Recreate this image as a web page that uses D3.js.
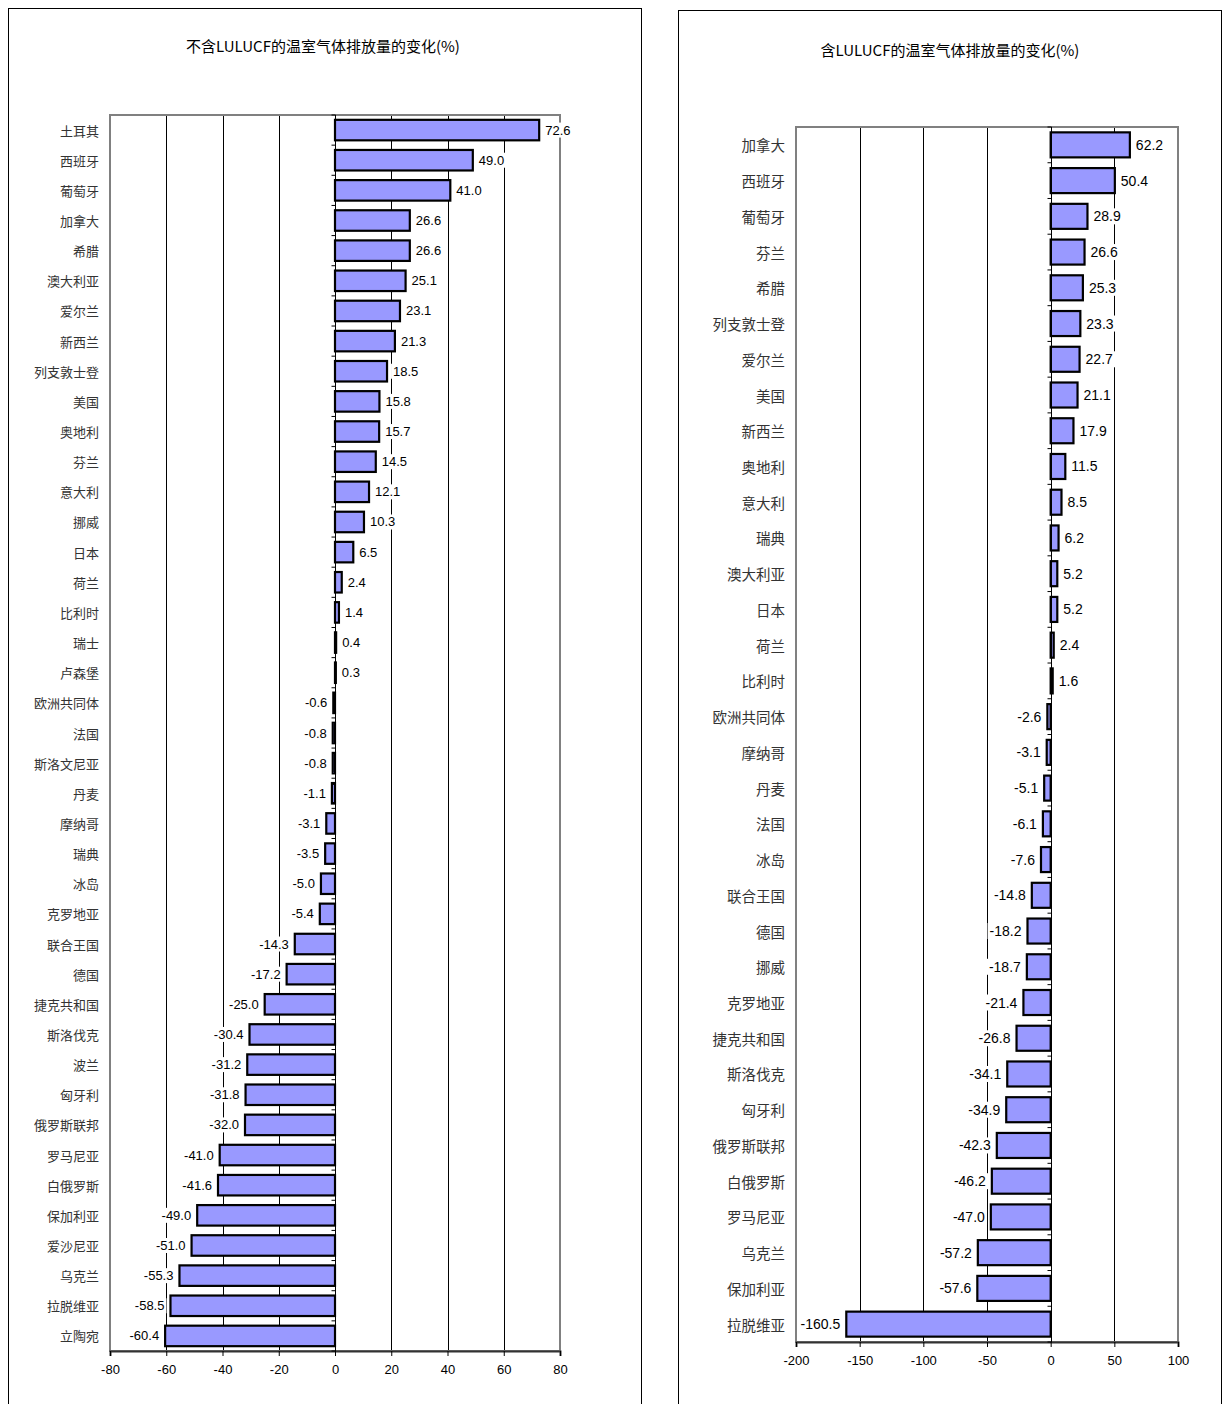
<!DOCTYPE html>
<html><head><meta charset="utf-8">
<script src="https://cdn.jsdelivr.net/npm/d3@7"></script>
<style>body{margin:0;background:#fff}svg{display:block}</style>
</head><body>
<script>
const leftTitle = "不含LULUCF的温室气体排放量的变化(%)";
const leftCats = ["土耳其","西班牙","葡萄牙","加拿大","希腊","澳大利亚","爱尔兰","新西兰","列支敦士登","美国","奥地利","芬兰","意大利","挪威","日本","荷兰","比利时","瑞士","卢森堡","欧洲共同体","法国","斯洛文尼亚","丹麦","摩纳哥","瑞典","冰岛","克罗地亚","联合王国","德国","捷克共和国","斯洛伐克","波兰","匈牙利","俄罗斯联邦","罗马尼亚","白俄罗斯","保加利亚","爱沙尼亚","乌克兰","拉脱维亚","立陶宛"];
const leftVals = [72.6,49.0,41.0,26.6,26.6,25.1,23.1,21.3,18.5,15.8,15.7,14.5,12.1,10.3,6.5,2.4,1.4,0.4,0.3,-0.6,-0.8,-0.8,-1.1,-3.1,-3.5,-5.0,-5.4,-14.3,-17.2,-25.0,-30.4,-31.2,-31.8,-32.0,-41.0,-41.6,-49.0,-51.0,-55.3,-58.5,-60.4];
const leftTicks = [-80,-60,-40,-20,0,20,40,60,80];

const rightTitle = "含LULUCF的温室气体排放量的变化(%)";
const rightCats = ["加拿大","西班牙","葡萄牙","芬兰","希腊","列支敦士登","爱尔兰","美国","新西兰","奥地利","意大利","瑞典","澳大利亚","日本","荷兰","比利时","欧洲共同体","摩纳哥","丹麦","法国","冰岛","联合王国","德国","挪威","克罗地亚","捷克共和国","斯洛伐克","匈牙利","俄罗斯联邦","白俄罗斯","罗马尼亚","乌克兰","保加利亚","拉脱维亚"];
const rightVals = [62.2,50.4,28.9,26.6,25.3,23.3,22.7,21.1,17.9,11.5,8.5,6.2,5.2,5.2,2.4,1.6,-2.6,-3.1,-5.1,-6.1,-7.6,-14.8,-18.2,-18.7,-21.4,-26.8,-34.1,-34.9,-42.3,-46.2,-47.0,-57.2,-57.6,-160.5];
const rightTicks = [-200,-150,-100,-50,0,50,100];

const svg = d3.select("body").append("svg").attr("width",1223).attr("height",1404);
const hy = s => s.replace("\u2212","-");
const fmt1 = d => hy(d3.format(".1f")(d));
const fmt0 = d => hy(d3.format("d")(d));

function panel(cfg){
  const g = svg.append("g");
  g.append("rect").attr("x",cfg.box[0]+0.5).attr("y",cfg.box[1]+0.5)
    .attr("width",cfg.box[2]-cfg.box[0]).attr("height",1404)
    .attr("fill","#fff").attr("stroke","#000").attr("stroke-width",1);
  g.append("text").attr("x",cfg.titleX).attr("y",cfg.titleY)
    .attr("text-anchor","middle").attr("dominant-baseline","middle")
    .attr("font-family","'Noto Sans CJK SC'").attr("font-size",15).attr("fill","#000")
    .text(cfg.title);
  const x = d3.scaleLinear().domain([cfg.ticks[0],cfg.ticks[cfg.ticks.length-1]]).range([cfg.x0,cfg.x1]);
  const y = d3.scaleBand().domain(cfg.cats).range([cfg.y0,cfg.y1]).paddingInner(cfg.pad).paddingOuter(cfg.pad/2);
  g.append("g").selectAll("line").data(cfg.ticks.filter(t=>t!==0 && t!==cfg.ticks[0] && t!==cfg.ticks[cfg.ticks.length-1]))
    .join("line").attr("x1",d=>Math.round(x(d))+0.5).attr("x2",d=>Math.round(x(d))+0.5)
    .attr("y1",cfg.y0).attr("y2",cfg.y1).attr("stroke","#000").attr("stroke-width",1);
  g.append("rect").attr("x",cfg.x0).attr("y",cfg.y0).attr("width",cfg.x1-cfg.x0).attr("height",cfg.y1-cfg.y0)
    .attr("fill","none").attr("stroke","#808080").attr("stroke-width",2);
  const ax = g.append("g").attr("transform",`translate(0,${cfg.y1})`)
    .call(d3.axisBottom(x).tickValues(cfg.ticks).tickSize(5).tickPadding(9).tickFormat(fmt0));
  ax.select(".domain").attr("stroke","#333").attr("stroke-width",2);
  ax.selectAll(".tick line").attr("stroke","#000");
  ax.selectAll("text").attr("font-family","'Liberation Sans',Arial").attr("font-size",13).attr("fill","#000");
  g.append("g").selectAll("rect").data(cfg.vals).join("rect")
    .attr("x",(d)=>x(Math.min(0,d))).attr("width",d=>Math.abs(x(d)-x(0)))
    .attr("y",(d,i)=>y(cfg.cats[i])).attr("height",y.bandwidth())
    .attr("fill","#9999FF").attr("stroke","#000").attr("stroke-width",2.2);
  const zx = Math.round(x(0))+0.5;
  g.append("line").attr("x1",zx).attr("x2",zx).attr("y1",cfg.y0).attr("y2",cfg.y1).attr("stroke","#000").attr("stroke-width",1);
  const step = y.step();
  g.append("g").selectAll("line").data(d3.range(cfg.cats.length+1)).join("line")
    .attr("x1",zx-4).attr("x2",zx).attr("y1",i=>cfg.y0+i*step).attr("y2",i=>cfg.y0+i*step)
    .attr("stroke","#000").attr("stroke-width",1);
  const lab = g.append("g").selectAll("g").data(cfg.vals).join("g");
  lab.each(function(d,i){
    const sel = d3.select(this);
    const pos = d>=0;
    const t = sel.append("text")
      .attr("x", pos ? x(d)+cfg.lo : x(d)-cfg.lo)
      .attr("y", y(cfg.cats[i])+y.bandwidth()/2)
      .attr("text-anchor", pos?"start":"end").attr("dominant-baseline","central")
      .attr("font-family","'Liberation Sans',Arial").attr("font-size",cfg.lfs).attr("fill","#000")
      .text(fmt1(d));
    const bb = t.node().getBBox();
    sel.insert("rect","text").attr("x",bb.x-2).attr("y",bb.y).attr("width",bb.width+4).attr("height",bb.height).attr("fill","#fff");
  });
  g.append("g").selectAll("text").data(cfg.cats).join("text")
    .attr("x",cfg.catX).attr("y",d=>y(d)+y.bandwidth()/2)
    .attr("text-anchor","end").attr("dominant-baseline","central")
    .attr("font-family","'Noto Sans CJK SC'").attr("font-size",cfg.cfs).attr("fill","#333")
    .text(d=>d);
}

panel({box:[8,8,641], title:leftTitle, titleX:323, titleY:48, cats:leftCats, vals:leftVals, ticks:leftTicks,
  x0:110, x1:560, y0:115, y1:1351, pad:0.32, catX:99, lo:6, lfs:13, cfs:13});
panel({box:[678,10,1221], title:rightTitle, titleX:950, titleY:52, cats:rightCats, vals:rightVals, ticks:rightTicks,
  x0:796, x1:1178, y0:127, y1:1342, pad:0.3, catX:785, lo:6, lfs:14, cfs:14.5});
</script>
</body></html>
